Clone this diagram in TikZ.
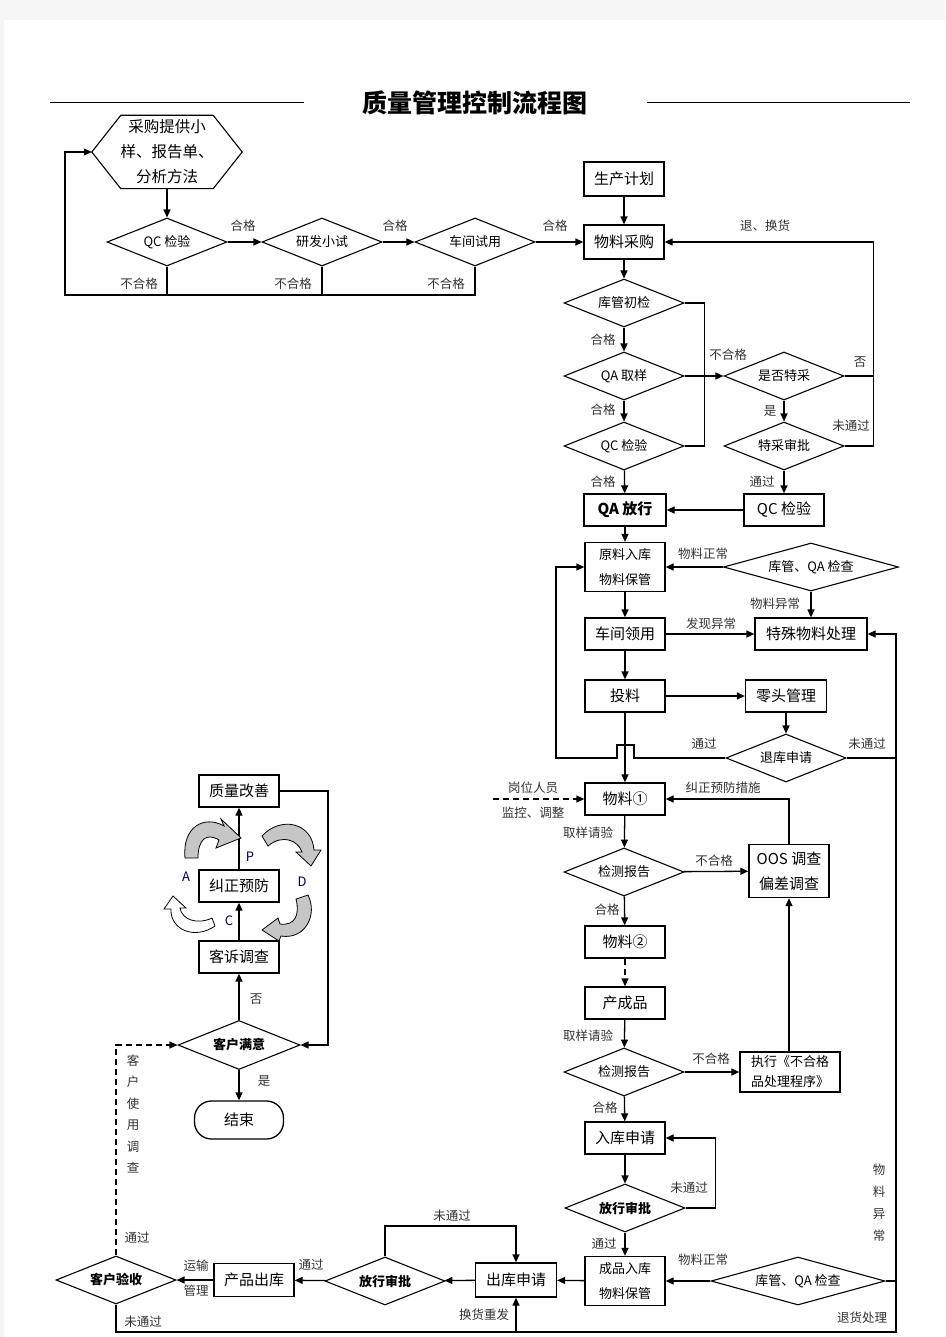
\documentclass[tikz,border=0pt]{standalone}
\usepackage{fontspec}
\setmainfont{Noto Sans CJK SC}
\usetikzlibrary{shapes.geometric,arrows.meta,calc}
\tikzset{
  ln/.style={line width=1.3pt},
  arr/.style={ln,-{Triangle[length=8pt,width=7pt]}},
  dsh/.style={dash pattern=on 6pt off 4pt},
  box/.style={draw,line width=1.3pt,minimum width=80pt,minimum height=32pt,inner sep=0pt,font=\fontsize{15}{17}\selectfont},
  box2/.style={box,align=center,font=\fontsize{13}{25}\selectfont},
  dia/.style={draw,diamond,aspect=2.5,line width=1.1pt,minimum width=120pt,minimum height=48pt,inner sep=0pt,font=\fontsize{13}{15}\selectfont},
  wdia/.style={dia,aspect=3.6,minimum width=175pt},
  lab/.style={inner sep=0pt,text=black!80,font=\fontsize{12.5}{14}\selectfont},
  pdca/.style={inner sep=0pt,text=blue!30!black,font=\fontsize{13}{15}\selectfont},
  blk/.style={draw,line width=0.8pt,fill=gray!45},
}
\begin{document}
\begin{tikzpicture}[x=1pt,y=-1pt]
\useasboundingbox (0,0) rectangle (945,1337);
\fill[gray!8] (0,0) rectangle (945,1337);
\fill[white] (4,20) rectangle (945,1337);
% title
\node[font=\bfseries\fontsize{25}{27}\selectfont] (title) at (475,103) {质量管理控制流程图};
\draw[line width=1pt] (50,103) -- (304,103);
\draw[line width=1pt] (647,103) -- (910,103);

% top-left
\node[minimum width=150pt,minimum height=73pt,inner sep=0pt,align=center,font=\fontsize{15.5}{25}\selectfont] (hex) at (167,152) {采购提供小\\样、报告单、\\分析方法};
\draw[line width=1.1pt] (hex.west) -- ($(hex.north west)+(29,0)$) -- ($(hex.north east)+(-29,0)$) -- (hex.east) -- ($(hex.south east)+(-29,0)$) -- ($(hex.south west)+(29,0)$) -- cycle;
\node[dia] (d1) at (167,242) {QC 检验};
\node[dia] (d2) at (322,242) {研发小试};
\node[dia] (d3) at (475,242) {车间试用};
\coordinate (bl) at (65,295);
\draw[arr] (hex.south) -- (d1.north);
\draw[arr] (d1) -- (d2);
\draw[arr] (d2) -- (d3);
\draw[ln] (d1.south) -- (d1.south |- bl);
\draw[ln] (d2.south) -- (d2.south |- bl);
\draw[arr] (d3.south) |- (bl) |- (hex.west);
\node[lab] at (243,226) {合格};
\node[lab] at (395,226) {合格};
\node[lab] at (555,226) {合格};
\node[lab] at (139,284) {不合格};
\node[lab] at (293,284) {不合格};
\node[lab] at (446,284) {不合格};

% right column top
\node[box,minimum height=34pt] (scjh) at (624,179) {生产计划};
\node[box,minimum height=34pt] (wlcg) at (624,242) {物料采购};
\draw[arr] (d3.east) -- (d3.east -| wlcg.west);
\node[dia] (kgcj) at (624,303) {库管初检};
\node[dia] (qaqy) at (624,376) {QA 取样};
\node[dia] (qcjy) at (624,446) {QC 检验};
\node[box,minimum width=82pt,font=\bfseries\fontsize{15}{17}\selectfont] (qafx) at (625,510) {QA 放行};
\node[dia] (sfty) at (784,376) {是否特采};
\node[dia] (tcsp) at (784,446) {特采审批};
\node[box] (qcjy2) at (784,510) {QC 检验};
\draw[arr] (scjh) -- (wlcg);
\draw[arr] (wlcg) -- (kgcj);
\draw[arr] (kgcj) -- (qaqy);
\draw[arr] (qaqy) -- (qcjy);
\draw[arr] (qcjy) -- (qafx);
\draw[ln] (kgcj.east) -- ++(20,0) |- (qcjy.east);
\draw[arr] (qaqy.east) -- (sfty.west);
\draw[arr] (sfty.east) -- ++(29,0) |- (wlcg.east);
\draw[ln] (tcsp.east) -| ($(sfty.east)+(29,0)$);
\draw[arr] (sfty) -- (tcsp);
\draw[arr] (tcsp) -- (qcjy2);
\draw[arr] (qcjy2) -- (qafx);
\node[lab] at (603,340) {合格};
\node[lab] at (603,410) {合格};
\node[lab] at (603,482) {合格};
\node[lab] at (728,355) {不合格};
\node[lab] at (860,362) {否};
\node[lab] at (765,226) {退、换货};
\node[lab] at (770,411) {是};
\node[lab] at (851,426) {未通过};
\node[lab] at (762,482) {通过};

% storage
\node[box2,minimum height=49pt] (ylrk) at (625,567) {原料入库\\物料保管};
\node[wdia] (kgqa) at (811,567) {库管、QA 检查};
\node[box] (cjly) at (625,634) {车间领用};
\node[box,minimum width=112pt] (tswl) at (811,634) {特殊物料处理};
\node[box] (tl) at (625,696) {投料};
\node[box,minimum width=81pt] (ltgl) at (786,696) {零头管理};
\node[dia] (tksq) at (786,758) {退库申请};
\draw[arr] (qafx) -- (ylrk);
\draw[arr] (kgqa) -- (ylrk);
\draw[arr] (kgqa.south) -- (tswl.north);
\draw[arr] (ylrk) -- (cjly);
\draw[arr] (cjly) -- (tswl);
\draw[arr] (cjly) -- (tl);
\draw[arr] (tl) -- (ltgl);
\draw[arr] (ltgl) -- (tksq);
\draw[arr] (tksq.west) -- (634,758) -- (634,745) -- (617,745) -- (617,758) -- (556,758) |- (ylrk.west);
\draw[ln] (tksq.east) -- (896,758);
\node[lab] at (703,554) {物料正常};
\node[lab] at (775,604) {物料异常};
\node[lab] at (711,624) {发现异常};
\node[lab] at (704,744) {通过};
\node[lab] at (867,744) {未通过};

% production
\node[box] (wl1) at (625,799) {物料①};
\node[dia] (jcbg1) at (624,872) {检测报告};
\node[box,minimum height=53pt,align=center,font=\fontsize{15}{25}\selectfont] (oos) at (789,871) {OOS 调查\\偏差调查};
\node[box] (wl2) at (625,942) {物料②};
\node[box] (ccp) at (625,1003) {产成品};
\node[dia] (jcbg2) at (624,1072) {检测报告};
\node[box,minimum width=100pt,minimum height=40pt,align=left,font=\fontsize{13}{20}\selectfont] (zx) at (790,1072) {执行《不合格\\品处理程序》};
\node[box] (rksq) at (625,1138) {入库申请};
\node[dia,font=\bfseries\fontsize{13}{15}\selectfont] (fxsp1) at (625,1208) {放行审批};
\node[box2,minimum height=49pt] (cprk) at (625,1281) {成品入库\\物料保管};
\node[wdia,minimum width=174pt] (kgqa2) at (798,1281) {库管、QA 检查};
\draw[arr] (tl) -- (wl1);
\draw[arr,dsh] (493,799) -- (wl1.west);
\draw[arr] (wl1) -- (jcbg1);
\draw[arr] (jcbg1) -- (oos);
\draw[arr] (oos.north) |- (wl1.east);
\draw[arr] (jcbg1) -- (wl2);
\draw[arr,dsh] (wl2) -- (ccp);
\draw[arr] (ccp) -- (jcbg2);
\draw[arr] (jcbg2) -- (zx);
\draw[arr] (zx.north -| oos.south) -- (oos.south);
\draw[arr] (jcbg2) -- (rksq);
\draw[arr] (rksq) -- (fxsp1);
\draw[arr] (fxsp1.east) -- ++(30,0) |- (rksq.east);
\draw[arr] (fxsp1) -- (cprk);
\draw[arr] (kgqa2) -- (cprk);
\draw[arr] (kgqa2.east) -- (896,1281) |- (tswl.east);
\node[lab] at (533,788) {岗位人员};
\node[lab] at (533,813) {监控、调整};
\node[lab] at (588,833) {取样请验};
\node[lab] at (714,861) {不合格};
\node[lab] at (723,788) {纠正预防措施};
\node[lab] at (607,910) {合格};
\node[lab] at (588,1036) {取样请验};
\node[lab] at (711,1059) {不合格};
\node[lab] at (605,1108) {合格};
\node[lab] at (689,1188) {未通过};
\node[lab] at (604,1244) {通过};
\node[lab] at (703,1260) {物料正常};
\node[lab] at (862,1318) {退货处理};
\node[lab,align=center,font=\fontsize{12.5}{22}\selectfont] at (879,1203) {物\\料\\异\\常};

% shipping
\node[box,minimum width=81pt,minimum height=34pt] (cksq) at (516,1280) {出库申请};
\node[dia,font=\bfseries\fontsize{13}{15}\selectfont] (fxsp2) at (385,1281) {放行审批};
\node[box,minimum height=33pt] (cpck) at (254,1280) {产品出库};
\node[dia,font=\bfseries\fontsize{13}{15}\selectfont] (khys) at (116,1280) {客户验收};
\draw[arr] (cprk) -- (cksq);
\draw[arr] (cksq) -- (fxsp2);
\draw[arr] (fxsp2.north) -- (385,1226) -| (cksq.north);
\draw[arr] (fxsp2) -- (cpck);
\draw[arr] (cpck) -- (khys);
\draw[arr] (896,1281) -- (896,1332) -| (cksq.south);
\draw[ln] (khys.south) |- (517,1332);
\node[lab] at (452,1216) {未通过};
\node[lab] at (311,1265) {通过};
\node[lab] at (196,1266) {运输};
\node[lab] at (196,1291) {管理};
\node[lab] at (484,1315) {换货重发};
\node[lab] at (143,1322) {未通过};
\node[lab] at (137,1238) {通过};

% customer loop
\node[dia,minimum width=122pt,minimum height=49pt,font=\bfseries\fontsize{13}{15}\selectfont] (khmy) at (239,1045) {客户满意};
\node[draw,line width=1.3pt,rounded corners=17pt,minimum width=89pt,minimum height=38pt,font=\fontsize{15}{17}\selectfont] (js) at (239,1120) {结束};
\node[box] (ktdc) at (239,957) {客诉调查};
\node[box] (jzyf) at (239,886) {纠正预防};
\node[box] (zlgs) at (239,791) {质量改善};
\draw[arr,dsh] (khys.north) |- (khmy.west);
\draw[arr] (khmy) -- (js);
\draw[arr] (khmy) -- (ktdc);
\draw[arr] (ktdc) -- (jzyf);
\draw[arr] (jzyf) -- (zlgs);
\draw[arr] (zlgs.east) -- (328,791) |- (khmy.east);
\node[lab] at (264,1081) {是};
\node[lab] at (256,999) {否};
\node[lab,align=center,font=\fontsize{12.5}{21.4}\selectfont] at (133,1114) {客\\户\\使\\用\\调\\查};
\node[pdca] at (250,857) {P};
\node[pdca] at (186,877) {A};
\node[pdca] at (302,882) {D};
\node[pdca] at (229,921) {C};
% PDCA curved block arrows
\draw[blk] (185,858) .. controls (182,826) and (205,815) .. (224,826) -- (221,819) -- (241,838) -- (216,848) -- (219,840) .. controls (206,832) and (198,840) .. (198,858) -- cycle;
\draw[blk] (262,836) .. controls (280,816) and (312,822) .. (314,850) -- (321,850) -- (311,866) -- (296,852) -- (302,852) .. controls (298,840) and (282,834) .. (268,846) -- cycle;
\draw[blk] (296,899) -- (308,895) .. controls (318,915) and (305,940) .. (281,936) -- (279,941) -- (262,930) -- (278,918) -- (280,924) .. controls (295,926) and (300,915) .. (296,899) -- cycle;
\draw[blk,fill=white] (173,896) -- (186,908) -- (180,908) .. controls (182,920) and (198,925) .. (212,918) -- (215,926) .. controls (195,940) and (170,930) .. (171,909) -- (164,909) -- cycle;
\end{tikzpicture}
\end{document}
